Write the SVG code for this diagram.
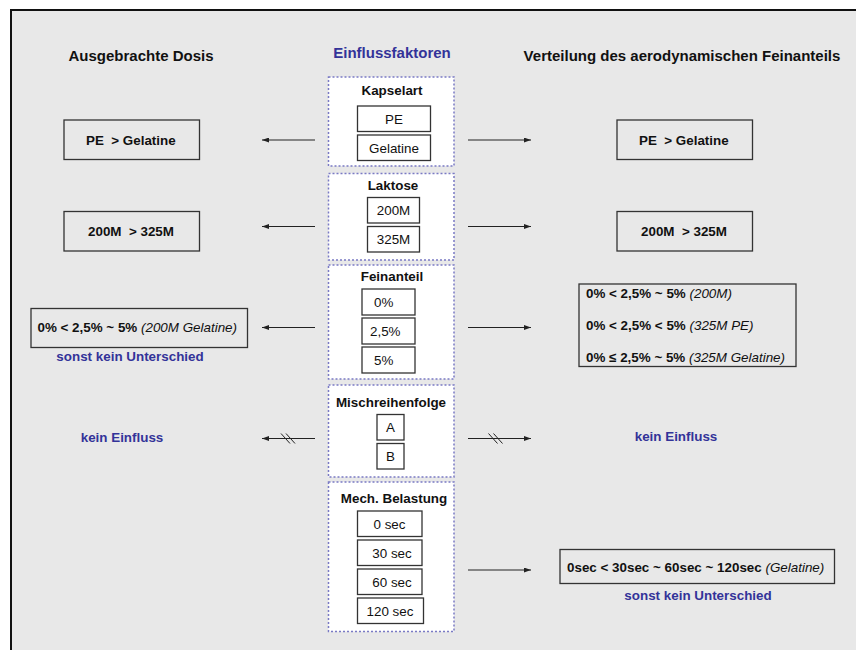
<svg xmlns="http://www.w3.org/2000/svg" width="856" height="650" viewBox="0 0 856 650">
  <style>
    text { font-family: "Liberation Sans", Arial, sans-serif; font-size: 13.4px; fill: #111; }
    .title { font-size: 15px; font-weight: bold; }
    .b { font-weight: bold; }
    .i { font-style: italic; font-weight: normal; }
    .blue { fill: #333399; font-weight: bold; }
    .mid { text-anchor: middle; }
    .group { fill: #ffffff; stroke: #7a7ac4; stroke-width: 1.5; stroke-dasharray: 2 2; }
    .opt { fill: #ffffff; stroke: #333333; stroke-width: 1.3; }
    .res { fill: #e8e8e8; stroke: #333333; stroke-width: 1.3; }
    .conn { stroke: #222222; stroke-width: 1; fill: none; }
  </style>
  <defs>
    <marker id="arrow" viewBox="0 0 7 5" refX="7" refY="2.5" markerWidth="7" markerHeight="5" orient="auto" markerUnits="userSpaceOnUse">
      <path d="M0,0 L7,2.5 L0,5 z" fill="#222222"/>
    </marker>
  </defs>

  <!-- page background and frame -->
  <rect x="0" y="0" width="856" height="650" fill="#ffffff"/>
  <rect x="11" y="10" width="845" height="640" fill="#e8e8e8"/>
  <line x1="10" y1="10" x2="856" y2="10" stroke="#111" stroke-width="2"/>
  <line x1="11" y1="9" x2="11" y2="650" stroke="#111" stroke-width="2"/>

  <!-- column headings -->
  <text class="title" x="141" y="61" text-anchor="middle">Ausgebrachte Dosis</text>
  <text class="title blue" x="392" y="58" text-anchor="middle">Einflussfaktoren</text>
  <text class="title" x="682" y="61" text-anchor="middle">Verteilung des aerodynamischen Feinanteils</text>

  <!-- factor: capsule type -->
  <g id="kapselart">
    <rect class="group" x="328.5" y="77" width="125.5" height="89"/>
    <text class="b mid" x="392" y="95">Kapselart</text>
    <rect class="opt" x="357.5" y="106" width="73" height="25.5"/>
    <text class="mid" x="394" y="123.5">PE</text>
    <rect class="opt" x="357.5" y="135" width="73" height="25.5"/>
    <text class="mid" x="394" y="152.5">Gelatine</text>
  </g>

  <!-- factor: lactose -->
  <g id="laktose">
    <rect class="group" x="328.5" y="173.5" width="125.5" height="86.5"/>
    <text class="b mid" x="393" y="189.5">Laktose</text>
    <rect class="opt" x="367.5" y="197.5" width="52" height="25.5"/>
    <text class="mid" x="393.5" y="215">200M</text>
    <rect class="opt" x="367.5" y="226.5" width="52" height="25.5"/>
    <text class="mid" x="393.5" y="244">325M</text>
  </g>

  <!-- factor: fine fraction -->
  <g id="feinanteil">
    <rect class="group" x="328.5" y="265" width="125.5" height="114"/>
    <text class="b mid" x="392" y="281">Feinanteil</text>
    <rect class="opt" x="362" y="289" width="53" height="26"/>
    <text x="374" y="307">0%</text>
    <rect class="opt" x="362" y="318" width="53" height="26"/>
    <text x="370" y="336">2,5%</text>
    <rect class="opt" x="362" y="347" width="53" height="26"/>
    <text x="374" y="365">5%</text>
  </g>

  <!-- factor: mixing order -->
  <g id="mischreihenfolge">
    <rect class="group" x="328.5" y="385" width="125.5" height="92"/>
    <text class="b mid" x="391" y="407">Mischreihenfolge</text>
    <rect class="opt" x="377" y="414.5" width="27" height="25.5"/>
    <text class="mid" x="390.5" y="432">A</text>
    <rect class="opt" x="377" y="443.5" width="27" height="25.5"/>
    <text class="mid" x="390.5" y="461">B</text>
  </g>

  <!-- factor: mechanical stress -->
  <g id="mech-belastung">
    <rect class="group" x="328.5" y="482" width="125.5" height="149.5"/>
    <text class="b mid" x="394" y="503">Mech. Belastung</text>
    <rect class="opt" x="357.5" y="511" width="64.5" height="25.5"/>
    <text class="mid" x="389.5" y="528.5">0 sec</text>
    <rect class="opt" x="357.5" y="540" width="64.5" height="25.5"/>
    <text class="mid" x="392" y="557.5">30 sec</text>
    <rect class="opt" x="357.5" y="569" width="64.5" height="25.5"/>
    <text class="mid" x="392" y="586.5">60 sec</text>
    <rect class="opt" x="357.5" y="598" width="66" height="25.5"/>
    <text class="mid" x="390" y="615.5">120 sec</text>
  </g>

  <!-- effects on delivered dose -->
  <g id="dosis-kapselart">
    <rect class="res" x="64" y="120" width="135.5" height="39.5"/>
    <text class="b" x="86" y="145" xml:space="preserve">PE  &gt; Gelatine</text>
  </g>
  <g id="dosis-laktose">
    <rect class="res" x="64" y="211.5" width="135.5" height="39.5"/>
    <text class="b" x="88" y="236" xml:space="preserve">200M  &gt; 325M</text>
  </g>
  <g id="dosis-feinanteil">
    <rect class="res" x="31" y="308.5" width="216.5" height="39"/>
    <text class="b" x="37.5" y="332">0% &lt; 2,5% ~ 5% <tspan class="i">(200M Gelatine)</tspan></text>
    <text class="blue mid" x="130" y="361">sonst kein Unterschied</text>
  </g>
  <g id="dosis-mischreihenfolge">
    <text class="blue mid" x="122" y="442">kein Einfluss</text>
  </g>

  <!-- effects on aerodynamic fine particle distribution -->
  <g id="verteilung-kapselart">
    <rect class="res" x="617" y="120" width="135.5" height="39.5"/>
    <text class="b" x="639" y="145" xml:space="preserve">PE  &gt; Gelatine</text>
  </g>
  <g id="verteilung-laktose">
    <rect class="res" x="617" y="211.5" width="135.5" height="39.5"/>
    <text class="b" x="641" y="236" xml:space="preserve">200M  &gt; 325M</text>
  </g>
  <g id="verteilung-feinanteil">
    <rect class="res" x="579" y="284" width="217" height="82.5"/>
    <text class="b" x="586" y="297.5">0% &lt; 2,5% ~ 5% <tspan class="i">(200M)</tspan></text>
    <text class="b" x="586" y="330">0% &lt; 2,5% &lt; 5% <tspan class="i">(325M PE)</tspan></text>
    <text class="b" x="586" y="362">0% ≤ 2,5% ~ 5% <tspan class="i">(325M Gelatine)</tspan></text>
  </g>
  <g id="verteilung-mischreihenfolge">
    <text class="blue mid" x="676" y="441">kein Einfluss</text>
  </g>
  <g id="verteilung-mech-belastung">
    <rect class="res" x="560" y="549.5" width="274.5" height="34"/>
    <text class="b" x="567" y="572">0sec &lt; 30sec ~ 60sec ~ 120sec <tspan class="i">(Gelatine)</tspan></text>
    <text class="blue mid" x="698" y="600">sonst kein Unterschied</text>
  </g>

  <!-- connectors -->
  <g id="connectors">
    <line class="conn" x1="315" y1="140" x2="262" y2="140" marker-end="url(#arrow)"/>
    <line class="conn" x1="468" y1="140" x2="531" y2="140" marker-end="url(#arrow)"/>
    <line class="conn" x1="315" y1="226.5" x2="262" y2="226.5" marker-end="url(#arrow)"/>
    <line class="conn" x1="468" y1="226.5" x2="531" y2="226.5" marker-end="url(#arrow)"/>
    <line class="conn" x1="315" y1="327.5" x2="262" y2="327.5" marker-end="url(#arrow)"/>
    <line class="conn" x1="468" y1="327.5" x2="531" y2="327.5" marker-end="url(#arrow)"/>
    <line class="conn" x1="315" y1="438.5" x2="262" y2="438.5" marker-end="url(#arrow)"/>
    <line class="conn" x1="468" y1="438.5" x2="531" y2="438.5" marker-end="url(#arrow)"/>
    <line class="conn" x1="468" y1="570" x2="531" y2="570" marker-end="url(#arrow)"/>
    <!-- break marks: no influence -->
    <path class="conn" d="M281,433.5 L290,443.5 M286,433.5 L295,443.5"/>
    <path class="conn" d="M488.5,433.5 L497.5,443.5 M493.5,433.5 L502.5,443.5"/>
  </g>
</svg>
